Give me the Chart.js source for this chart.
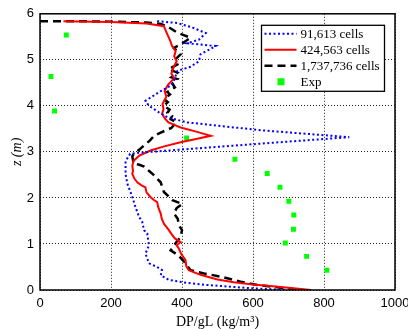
<!DOCTYPE html>
<html><head><meta charset="utf-8">
<script src="https://cdn.jsdelivr.net/npm/chart.js@4"></script>
<style>html,body{margin:0;padding:0;background:#fff}#w{width:408px;height:329px}</style>
</head><body><div id="w"><canvas id="c" width="408" height="329"></canvas></div>
<script>
const xTicks = [0, 200, 400, 600, 800, 1000];
const zTicks = [0, 1, 2, 3, 4, 5, 6];
const seriesNames = ["91,613 cells", "424,563 cells", "1,737,736 cells", "Exp"];

// 91,613 cells (blue dotted)
const coarseX = [330,387,430,467,448,415,495,452,448,424,387,377,370,340,297,307,335,359,415,622,871,622,293,254,241,241,246,250,260,269,279,288,293,302,307,297,307,330,344,340,363,401,452,520,593,697];
const coarseZ = [5.84,5.80,5.70,5.58,5.44,5.36,5.30,5.12,4.97,4.85,4.76,4.54,4.45,4.32,4.11,4.00,3.86,3.75,3.64,3.47,3.32,3.18,2.99,2.96,2.80,2.52,2.31,2.23,2.02,1.80,1.59,1.48,1.30,1.23,0.97,0.79,0.58,0.50,0.43,0.32,0.22,0.17,0.12,0.08,0.04,0.00];

// 424,563 cells (red solid)
const mediumX = [66,200,300,349,355,367,372,382,378,385,376,370,378,360,351,356,345,348,344,352,362,380,396,440,481,440,396,350,311,280,264,260,262,260,266,274,285,297,300,311,320,330,333,340,343,349,355,363,370,380,396,385,391,398,410,412,419,452,500,546,600,640,700,763];
const mediumZ = [5.84,5.82,5.79,5.73,5.62,5.41,5.30,5.19,5.08,4.97,4.83,4.70,4.60,4.45,4.32,4.20,4.04,3.93,3.83,3.72,3.64,3.58,3.53,3.44,3.35,3.28,3.21,3.12,3.03,2.92,2.81,2.70,2.59,2.52,2.42,2.34,2.28,2.23,2.12,2.02,1.96,1.91,1.80,1.66,1.55,1.44,1.38,1.30,1.22,1.12,1.04,0.97,0.90,0.78,0.65,0.52,0.43,0.33,0.23,0.17,0.12,0.09,0.05,0.00];

// 1,737,736 cells (black dashed)
const fineX = [0,100,200,300,340,360,387,424,396,377,396,380,387,363,387,370,387,373,380,359,366,349,360,349,365,359,372,368,385,377,370,340,321,310,293,280,264,260,264,280,293,305,320,330,340,345,349,360,373,401,385,377,388,391,400,396,385,368,390,410,424,462,509,565,612,680,734];
const fineZ = [5.84,5.84,5.83,5.81,5.78,5.72,5.59,5.48,5.33,5.26,5.12,5.00,4.90,4.80,4.72,4.62,4.58,4.48,4.40,4.30,4.25,4.15,4.08,4.00,3.92,3.85,3.78,3.71,3.64,3.58,3.52,3.42,3.35,3.25,3.14,3.05,2.96,2.90,2.75,2.72,2.68,2.60,2.50,2.42,2.34,2.22,2.13,2.05,1.95,1.87,1.78,1.66,1.55,1.41,1.30,1.15,1.05,0.86,0.75,0.58,0.43,0.36,0.29,0.18,0.11,0.05,0.00];

// Experiment
const expX = [74,31,41,413,549,640,676,701,715,714,691,751,808];
const expZ = [5.54,4.64,3.89,3.30,2.84,2.53,2.23,1.93,1.63,1.32,1.02,0.73,0.43];

const pts = (xs, zs) => xs.map((v, i) => ({x: v, y: zs[i]}));

const frameAndLegend = {
  id: 'frameAndLegend',
  afterDraw(chart) {
    const ctx = chart.ctx, a = chart.chartArea;
    ctx.save();
    ctx.setLineDash([]);
    ctx.strokeStyle = '#000';
    ctx.lineWidth = 1.5;
    ctx.strokeRect(a.left, a.top, a.right - a.left, a.bottom - a.top);
    // legend
    const L = a.right - 133.5, T = a.top + 11.5, W = 123, H = 66;
    ctx.fillStyle = '#fff';
    ctx.fillRect(L, T, W, H);
    ctx.lineWidth = 1.3;
    ctx.strokeRect(L, T, W, H);
    ctx.font = '13px "Liberation Serif", "DejaVu Serif", serif';
    ctx.textBaseline = 'middle';
    chart.data.datasets.forEach((ds, i) => {
      const y = T + 8.5 + i * 16;
      if (ds.showLine) {
        ctx.strokeStyle = ds.borderColor;
        ctx.lineWidth = ds.borderWidth;
        ctx.setLineDash(ds.borderDash || []);
        ctx.beginPath(); ctx.moveTo(L + 3, y); ctx.lineTo(L + 35, y); ctx.stroke();
        ctx.setLineDash([]);
      } else {
        ctx.fillStyle = ds.backgroundColor;
        ctx.fillRect(L + 16, y - 3.5, 7, 7);
      }
      ctx.fillStyle = '#000';
      ctx.fillText(ds.label, L + 39, y + 1);
    });
    ctx.restore();
  }
};

const tickFont = {family: '"Liberation Sans", Arial, sans-serif', size: 13};
const titleFont = {family: '"Liberation Serif", "DejaVu Serif", serif', size: 14, lineHeight: 1};

new Chart(document.getElementById('c'), {
  type: 'scatter',
  data: {
    datasets: [
      {label: seriesNames[0], data: pts(coarseX, coarseZ), showLine: true, borderColor: '#0000ff', borderWidth: 2, borderDash: [2, 2.5], pointRadius: 0, fill: false, tension: 0},
      {label: seriesNames[1], data: pts(mediumX, mediumZ), showLine: true, borderColor: '#ff0000', borderWidth: 2, pointRadius: 0, fill: false, tension: 0},
      {label: seriesNames[2], data: pts(fineX, fineZ), showLine: true, borderColor: '#000000', borderWidth: 2.5, borderDash: [8, 5], pointRadius: 0, fill: false, tension: 0},
      {label: seriesNames[3], data: pts(expX, expZ), showLine: false, pointStyle: 'rect', pointRadius: 3.5, backgroundColor: '#00ff00', borderColor: '#00ff00', borderWidth: 0}
    ]
  },
  options: {
    responsive: false,
    animation: false,
    devicePixelRatio: 1,
    layout: {padding: {top: 12, right: 13, left: 0, bottom: 0}},
    plugins: {legend: {display: false}, tooltip: {enabled: false}},
    scales: {
      x: {
        type: 'linear', min: xTicks[0], max: xTicks[xTicks.length - 1],
        afterBuildTicks(s) { s.ticks = xTicks.map(v => ({value: v})); },
        afterFit(s) { s.height = 39; s.paddingRight = 12; s.paddingLeft = 0; },
        ticks: {font: tickFont, color: '#000', padding: 6, maxRotation: 0, callback: v => String(v)},
        grid: {color: '#222', lineWidth: 1, drawTicks: false},
        border: {display: false, dash: [1, 2]},
        title: {display: true, text: 'DP/gL (kg/m³)', font: titleFont, color: '#000', padding: {top: 0, bottom: 0}}
      },
      y: {
        type: 'linear', min: zTicks[0], max: zTicks[zTicks.length - 1],
        afterBuildTicks(s) { s.ticks = zTicks.map(v => ({value: v})); },
        afterFit(s) { s.width = 40; },
        ticks: {font: tickFont, color: '#000', padding: 6, callback: v => String(v)},
        grid: {color: '#222', lineWidth: 1, drawTicks: false},
        border: {display: false, dash: [1, 2]},
        title: {display: true, text: 'z (m)', font: {family: '"Liberation Serif", "DejaVu Serif", serif', size: 14, style: 'italic', lineHeight: 1}, color: '#000', padding: {top: 10, bottom: 0}}
      }
    }
  },
  plugins: [frameAndLegend]
});
</script>
</body></html>
